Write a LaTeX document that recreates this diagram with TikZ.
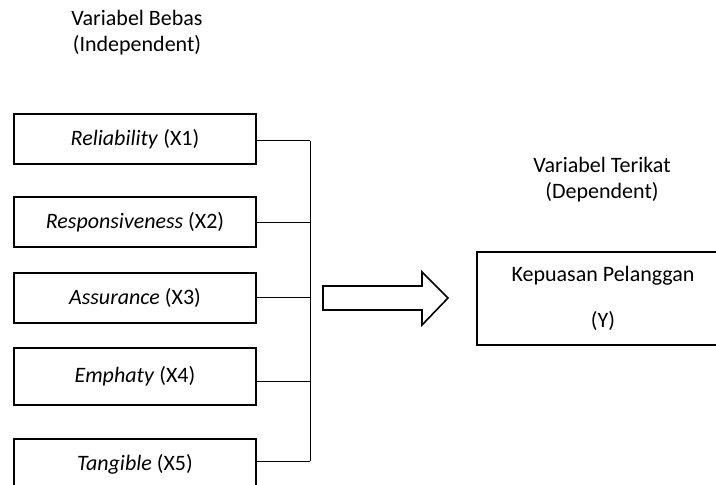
\documentclass[tikz,border=0pt]{standalone}
\usepackage{fontspec}
\setmainfont{Carlito}
\usetikzlibrary{positioning}

\begin{document}
\begin{tikzpicture}[x=0.5pt, y=-0.5pt,
    font=\fontsize{11}{13}\selectfont,
    varbox/.style={rectangle, draw=black, line width=1pt, minimum width=121pt,
                 minimum height=25pt, inner sep=2pt, align=center},
    title/.style={align=center},
    link/.style={draw=black, line width=0.5pt},
    bigarr/.style={draw=black, line width=0.8pt, fill=white, line join=miter}
]
    \useasboundingbox (0,0) rectangle (716,485);
    \clip (0,0) rectangle (716,485);
    \node[title] (bebas) at (137,33) {Variabel Bebas\\(Independent)};
    \node[title] (terikat) at (602,180) {Variabel Terikat\\(Dependent)};
    \node[varbox] (rel) at (135,139) {\textit{Reliability} (X1)};
    \node[varbox] (res) at (135,222.5) {\textit{Responsiveness} (X2)};
    \node[varbox] (ass) at (135,298) {\textit{Assurance} (X3)};
    \node[varbox, minimum height=28pt] (emp) at (135,376.5) {\textit{Emphaty} (X4)};
    \node[varbox] (tan) at (135,464) {\textit{Tangible} (X5)};
    \node[varbox, minimum width=126pt, minimum height=46.5pt] (kp) at (603,298.5)
        {Kepuasan Pelanggan\\[10pt](Y)};
    % joining lines
    \coordinate (top) at (310,141);
    \coordinate (bot) at (310,461);
    \draw[link] (rel.east |- top) -- (top);
    \draw[link] (res.east) -- (res.east -| top);
    \draw[link] (ass.east) -- (ass.east -| top);
    \draw[link] (emp.east |- 0,382) -- (310,382);
    \draw[link] (tan.east |- bot) -- (bot);
    \draw[link] (top) -- (bot);
    % block arrow
    \draw[bigarr] (323,286) -- (422,286) -- (422,272) -- (448,298)
        -- (422,325) -- (422,310) -- (323,310) -- cycle;
\end{tikzpicture}
\end{document}
